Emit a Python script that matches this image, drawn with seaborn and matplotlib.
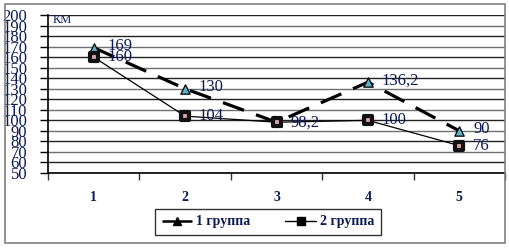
import matplotlib
matplotlib.use("Agg")
import matplotlib.pyplot as plt
import seaborn as sns
import pandas as pd
from matplotlib.lines import Line2D
from matplotlib.patches import Rectangle

categories = [1, 2, 3, 4, 5]
group1 = [169, 130, 98.2, 136.2, 90]
group2 = [160, 104, 98.2, 100, 76]
series_names = ["1 группа", "2 группа"]
y_ticks = list(range(50, 201, 10))

df = pd.DataFrame({
    "x": categories * 2,
    "y": group1 + group2,
    "series": [series_names[0]] * 5 + [series_names[1]] * 5,
})

sns.set_style("white")
plt.rcParams["font.family"] = ["Liberation Serif", "DejaVu Serif"]

fig = plt.figure(figsize=(5.1, 2.5), dpi=100)
ax = fig.add_axes([48 / 510, 1 - 173 / 250, (505 - 48) / 510, (173 - 15) / 250])

# gridlines
for i, v in enumerate(y_ticks):
    ax.axhline(v, color="#222222" if i % 2 else "#707070", lw=1.0, zorder=0)

sns.lineplot(data=df[df.series == series_names[0]], x="x", y="y", ax=ax,
             color="black", lw=2.3, legend=False, zorder=3)
ax.lines[-1].set_dashes([7, 4])
sns.lineplot(data=df[df.series == series_names[1]], x="x", y="y", ax=ax,
             color="black", lw=0.9, legend=False, zorder=3)

sns.scatterplot(x=categories, y=group1, marker="^", s=45, color="#5ab4cf",
                edgecolor="#111111", linewidth=1.0, ax=ax, zorder=5, legend=False)
sns.scatterplot(x=categories, y=group2, marker="s", s=38, color="#d9a3a3",
                edgecolor="#111111", linewidth=3.0, ax=ax, zorder=5, legend=False)

def fmt(v):
    s = f"{v:g}"
    return s.replace(".", ",")

lab_color = "#0b1a55"
for i, (x, v) in enumerate(zip(categories, group1)):
    if i == 2:
        continue
    ax.text(x + 0.15, v + 1.5, fmt(v), fontsize=12, color=lab_color, va="center", ha="left", zorder=6)
for x, v in zip(categories, group2):
    ax.text(x + 0.15, v, fmt(v), fontsize=12, color=lab_color, va="center", ha="left", zorder=6)

ax.set_xlim(0.5, 5.5)
ax.set_ylim(50, 200)
ax.set_yticks(y_ticks)
ax.set_yticklabels([str(t) for t in y_ticks], fontsize=12, color=lab_color)
ax.tick_params(axis="y", length=6, width=1, pad=9, color="black", direction="out", left=True)
ax.set_xticks(categories)
ax.set_xticklabels([str(c) for c in categories], fontsize=10, fontweight="bold", color=lab_color)
ax.set_xticks([0.5, 1.5, 2.5, 3.5, 4.5, 5.5], minor=True)
ax.tick_params(axis="x", which="major", length=0, pad=13)
ax.tick_params(axis="x", which="minor", length=5, width=1, color="#333333", direction="out", bottom=True)
ax.set_xlabel("")
ax.set_ylabel("")
for side in ["top", "right"]:
    ax.spines[side].set_visible(False)
ax.spines["left"].set_color("black")
ax.spines["left"].set_linewidth(1.2)
ax.spines["bottom"].set_color("black")
ax.spines["bottom"].set_linewidth(1.2)

ax.text(0.55, 195, "КМ", fontsize=9, color=lab_color, va="center", ha="left")

handles = [
    Line2D([0], [0], color="black", lw=1.8, dashes=[5, 2], marker="^", markersize=6,
           markerfacecolor="black", markeredgecolor="black"),
    Line2D([0], [0], color="black", lw=1.0, marker="s", markersize=6,
           markerfacecolor="black", markeredgecolor="black"),
]
leg = fig.legend(handles, series_names, loc="center", bbox_to_anchor=(268 / 510, 1 - 222 / 250),
                 ncol=2, frameon=True, fancybox=False, edgecolor="black", handlelength=2.2,
                 handletextpad=0.3, columnspacing=2.5, borderpad=0.45,
                 prop={"weight": "bold", "size": 10})
leg.get_frame().set_linewidth(1.0)
for t in leg.get_texts():
    t.set_color(lab_color)

fig.patches.append(Rectangle((5 / 510, 1 - 243 / 250), 500 / 510, 239 / 250,
                             transform=fig.transFigure, fill=False, edgecolor="#808080", lw=1.2))

fig.savefig("out.png", dpi=100)
